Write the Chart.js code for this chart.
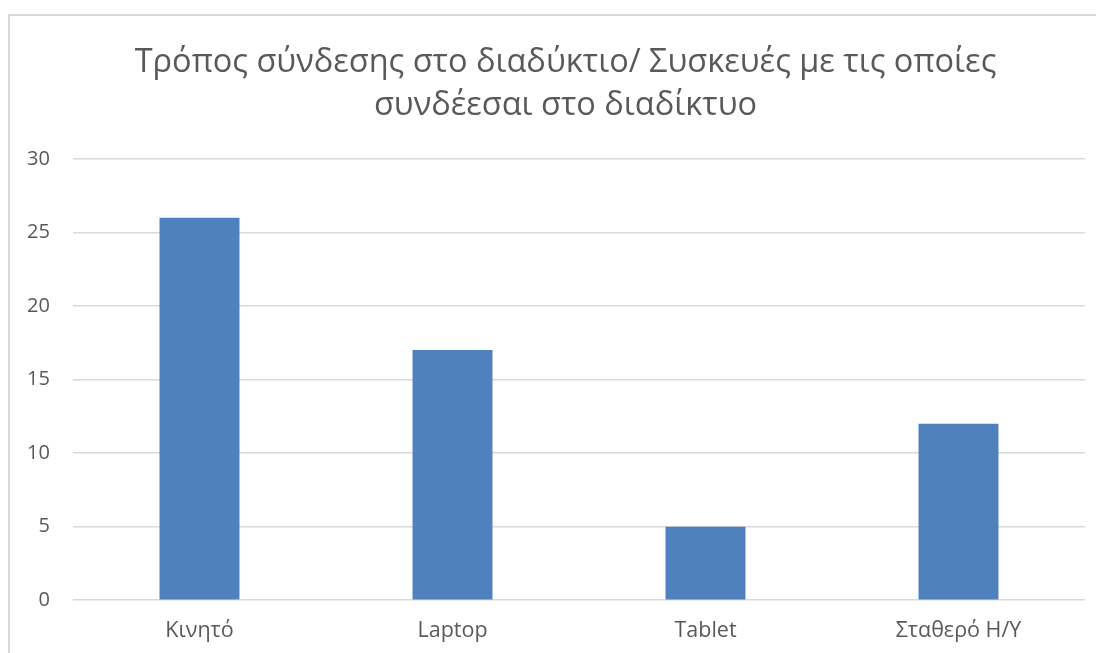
<!DOCTYPE html>
<html>
<head>
<meta charset="utf-8">
<script src="https://cdn.jsdelivr.net/npm/chart.js@4.4.0/dist/chart.umd.min.js"></script>
<style>
  html, body { margin: 0; padding: 0; background: #fff; overflow: hidden; }
  #ChartDiv {
    position: absolute; left: 8px; top: 14px;
    width: 1086px; height: 660px;
    border-top: 2px solid #d9d9d9; border-left: 2px solid #d9d9d9;
  }
  #chart { display: block; }
</style>
</head>
<body>
<div id="ChartDiv"><canvas id="chart" width="1086" height="646"></canvas></div>
<script>
var Categories = ['Κινητό', 'Laptop', 'Tablet', 'Σταθερό Η/Υ']
var Values = [26, 17, 5, 12]
var TitleLines = ['Τρόπος σύνδεσης στο διαδύκτιο/ Συσκευές με τις οποίες', 'συνδέεσαι στο διαδίκτυο']

window.onload = function() {
  DrawGraph()
};

function DrawGraph(){
  var ctx = document.getElementById('chart').getContext('2d')
  new Chart(ctx, {
    type: 'bar',
    data: {
      labels: Categories,
      datasets: [{
        label: 'Σειρά 1',
        backgroundColor: '#4f81bd',
        borderWidth: 0,
        data: Values,
        categoryPercentage: 1,
        barPercentage: 0.316
      }]
    },
    options: {
      responsive: false,
      animation: false,
      layout: { padding: { left: 36, right: 11, top: 10, bottom: 0 } },
      plugins: {
        legend: { display: false },
        tooltip: { enabled: false },
        title: {
          display: true,
          text: TitleLines,
          color: '#595959',
          font: { family: 'Open Sans', size: 32.5, weight: 'normal', lineHeight: 1.32 },
          padding: { top: 15, bottom: 32 }
        }
      },
      scales: {
        y: {
          min: 0,
          max: 30,
          afterFit: function(scale) { scale.width = 27 },
          ticks: {
            stepSize: 5,
            color: '#595959',
            font: { family: 'Open Sans', size: 20 },
            mirror: true,
            crossAlign: 'far',
            padding: -46
          },
          grid: { color: '#d9d9d9', lineWidth: 1.5, drawTicks: false },
          border: { display: false }
        },
        x: {
          ticks: {
            color: '#595959',
            font: { family: 'Open Sans', size: 21.5 },
            padding: 18
          },
          grid: { display: false, drawTicks: false },
          border: { display: false }
        }
      }
    }
  });
}
</script>
</body>
</html>
